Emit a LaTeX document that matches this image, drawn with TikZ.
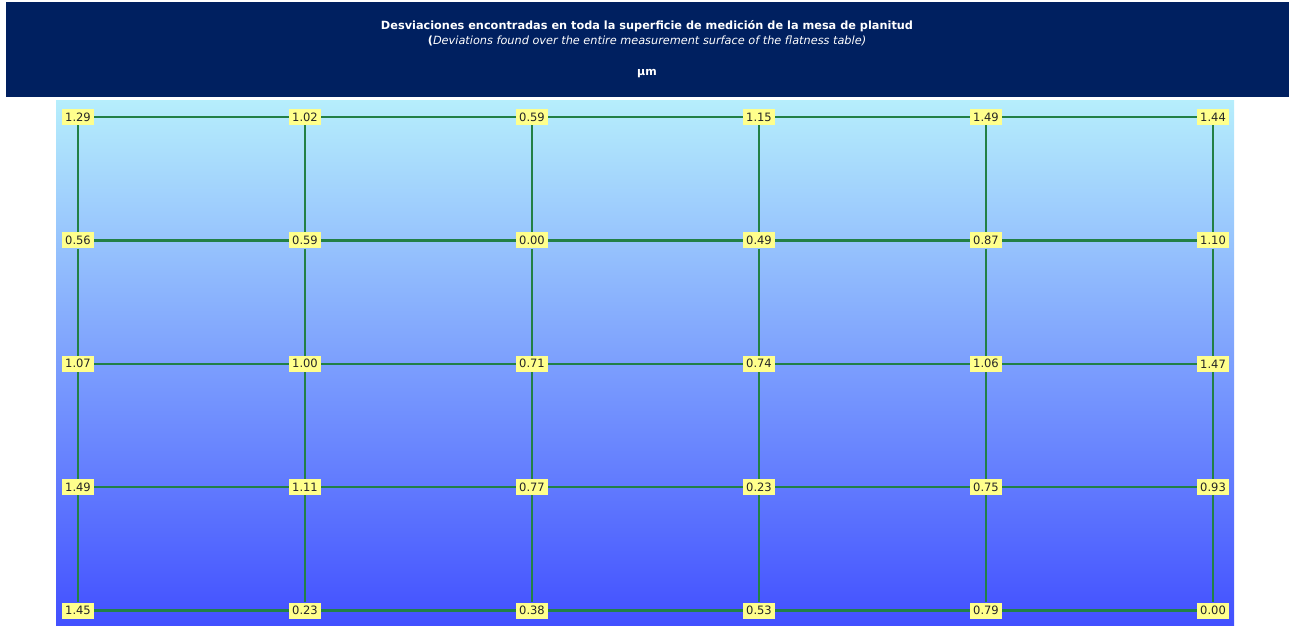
\documentclass[tikz,border=0pt]{standalone}
\usepackage{fontspec}
\setmainfont{DejaVu Sans}
\usepackage{tikz}
\usetikzlibrary{positioning, calc}
\definecolor{azulHdr}{RGB}{0,32,96}
\definecolor{cianTop}{RGB}{182,238,252}
\definecolor{azulBot}{RGB}{66,80,255}
\definecolor{verdeRed}{RGB}{34,128,70}
\definecolor{amarillo}{RGB}{255,255,140}

\begin{document}
\begin{tikzpicture}[
  x=1pt, y=-1pt,
  node distance=107pt and 194.6pt,
  val/.style={rectangle, fill=amarillo, inner sep=1pt, minimum width=32pt,
              minimum height=16pt, font=\fontsize{11.5}{12}\selectfont, text=black!85},
  gridln/.style={line width=2.3pt, color=verdeRed},
  hdr/.style={text=white, align=center}
]
  \useasboundingbox (0,0) rectangle (1289,625);
  % cabecera
  \fill[azulHdr] (6,2) rectangle (1289,97);
  \node[hdr, font=\fontsize{11.3}{15}\selectfont] (titulo) at (647,33)
    {\textbf{Desviaciones encontradas en toda la superficie de medición de la mesa de planitud}\\
     \textbf{(}\textit{Deviations found over the entire measurement surface of the flatness table)}};
  \node[hdr, font=\bfseries\fontsize{11}{12}\selectfont] (unidad) at (647,74) {µm};
  % superficie
  \shade[top color=cianTop, bottom color=azulBot] (56,100) rectangle (1234,625);

  \node[val] (p11) at (78,117) {1.29};
  \node[val, right=of p11] (p12) {1.02};
  \node[val, right=of p12] (p13) {0.59};
  \node[val, right=of p13] (p14) {1.15};
  \node[val, right=of p14] (p15) {1.49};
  \node[val, right=of p15] (p16) {1.44};

  \node[val, below=of p11] (p21) {0.56};
  \node[val, right=of p21] (p22) {0.59};
  \node[val, right=of p22] (p23) {0.00};
  \node[val, right=of p23] (p24) {0.49};
  \node[val, right=of p24] (p25) {0.87};
  \node[val, right=of p25] (p26) {1.10};

  \node[val, below=of p21] (p31) {1.07};
  \node[val, right=of p31] (p32) {1.00};
  \node[val, right=of p32] (p33) {0.71};
  \node[val, right=of p33] (p34) {0.74};
  \node[val, right=of p34] (p35) {1.06};
  \node[val, right=of p35] (p36) {1.47};

  \node[val, below=of p31] (p41) {1.49};
  \node[val, right=of p41] (p42) {1.11};
  \node[val, right=of p42] (p43) {0.77};
  \node[val, right=of p43] (p44) {0.23};
  \node[val, right=of p44] (p45) {0.75};
  \node[val, right=of p45] (p46) {0.93};

  \node[val, below=of p41] (p51) {1.45};
  \node[val, right=of p51] (p52) {0.23};
  \node[val, right=of p52] (p53) {0.38};
  \node[val, right=of p53] (p54) {0.53};
  \node[val, right=of p54] (p55) {0.79};
  \node[val, right=of p55] (p56) {0.00};

  % lineas horizontales
  \foreach \r in {1,...,5} {
    \draw[gridln] (p\r1) -- (p\r2);
    \draw[gridln] (p\r2) -- (p\r3);
    \draw[gridln] (p\r3) -- (p\r4);
    \draw[gridln] (p\r4) -- (p\r5);
    \draw[gridln] (p\r5) -- (p\r6);
  }
  % lineas verticales
  \foreach \c in {1,...,6} {
    \draw[gridln] (p1\c) -- (p2\c);
    \draw[gridln] (p2\c) -- (p3\c);
    \draw[gridln] (p3\c) -- (p4\c);
    \draw[gridln] (p4\c) -- (p5\c);
  }
\end{tikzpicture}
\end{document}
